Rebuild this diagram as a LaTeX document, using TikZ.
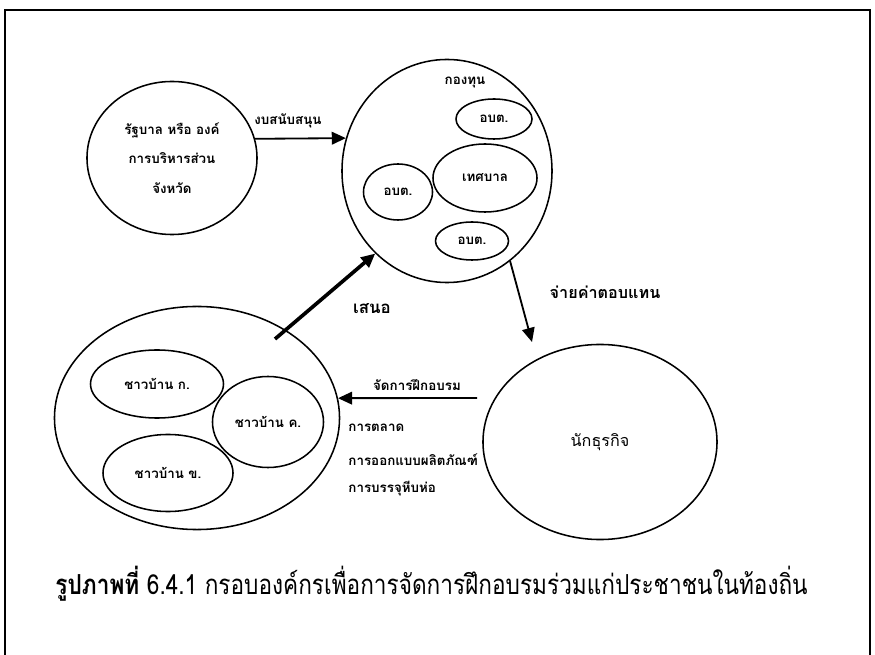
\documentclass[tikz,border=0pt]{standalone}
\usepackage{fontspec}
\newfontfamily\thaifont[Script=Thai]{Loma}
\newfontfamily\capfont[Script=Thai, FakeStretch=0.82]{Loma}
\usetikzlibrary{shapes.geometric, arrows.meta}

\begin{document}
\begin{tikzpicture}[x=0.025cm, y=-0.025cm, line width=1.1pt,
    font=\thaifont\bfseries\fontsize{9.5}{12}\selectfont,
    oval/.style={draw, shape=ellipse, inner sep=0pt, align=center},
    flow/.style={-{Triangle[length=10pt, width=9pt]}, line width=1.3pt}]
    \useasboundingbox (0,0) rectangle (875,655);
    % frame
    \draw[line width=1.8pt] (5,655) -- (5,10) -- (870,10) -- (870,655);

    % government
    \node(gov)[oval, minimum width=4.25cm, minimum height=3.825cm,
        font=\thaifont\bfseries\fontsize{9.5}{21}\selectfont] at (172,158)
        {รัฐบาล หรือ องค์\\การบริหารส่วน\\จังหวัด};

    % fund
    \node(fund)[oval, minimum width=5.25cm, minimum height=5.575cm] at (447,171) {};
    \node(fundlabel) at (465,82) {กองทุน};
    \node(obt1)[oval, minimum width=1.9cm, minimum height=1cm] at (494,119) {อบต.};
    \node(tessaban)[oval, minimum width=2.6cm, minimum height=1.7cm] at (485,178) {เทศบาล};
    \node(obt2)[oval, minimum width=1.725cm, minimum height=1.4cm] at (398,192) {อบต.};
    \node(obt3)[oval, minimum width=1.825cm, minimum height=0.95cm] at (472,241) {อบต.};

    % villagers
    \node(vil)[oval, minimum width=7.125cm, minimum height=5.575cm] at (197,418) {};
    \node(vilA)[oval, minimum width=3.325cm, minimum height=1.7cm] at (157,384) {ชาวบ้าน ก.};
    \node(vilC)[oval, minimum width=2.775cm, minimum height=2.275cm] at (268,422) {ชาวบ้าน ค.};
    \node(vilB)[oval, minimum width=3.25cm, minimum height=1.925cm] at (168,473) {ชาวบ้าน ข.};

    % business
    \node(biz)[oval, minimum width=5.85cm, minimum height=4.875cm,
        font=\thaifont\fontsize{11.5}{14}\selectfont] at (600,442) {นักธุรกิจ};

    % flows
    \draw[flow] (gov.13) -- (fund.162);
    \node(budget) at (288,121) {งบสนับสนุน};

    \coordinate(proposeFrom) at (275,339);
    \draw[flow, line width=2.6pt] (proposeFrom) -- (fund.229);
    \node(propose)[font=\thaifont\bfseries\fontsize{12}{14}\selectfont] at (372,309) {เสนอ};

    \coordinate(payTo) at (532,342);
    \draw[flow] (fund.305) -- (payTo);
    \node(pay)[font=\thaifont\bfseries\fontsize{11.5}{14}\selectfont] at (605,292) {จ่ายค่าตอบแทน};

    \coordinate(trainFrom) at (477,398);
    \draw[flow] (trainFrom) -- (vil.8);
    \node(train) at (417,385) {จัดการฝึกอบรม};
    \node(marketing)[anchor=west] at (343,428) {การตลาด};
    \node(design)[anchor=west] at (343,460) {การออกแบบผลิตภัณฑ์};
    \node(packing)[anchor=west] at (343,489) {การบรรจุหีบห่อ};

    % caption
    \node(caption)[anchor=west, font=\capfont\fontsize{19.6}{22}\selectfont] at (50,584)
        {\textbf{รูปภาพที่} 6.4.1 กรอบองค์กรเพื่อการจัดการฝึกอบรมร่วมแก่ประชาชนในท้องถิ่น};
\end{tikzpicture}
\end{document}
